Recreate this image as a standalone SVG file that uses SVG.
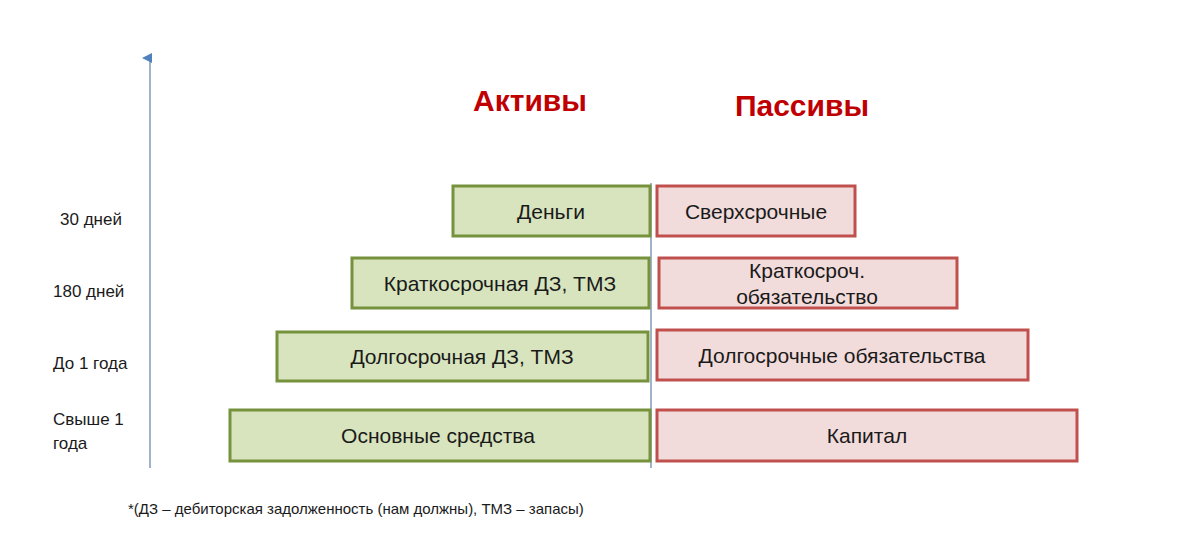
<svg xmlns="http://www.w3.org/2000/svg" width="1200" height="544" viewBox="0 0 1200 544">
<style>
text{font-family:"Liberation Sans",Arial,sans-serif;fill:#1a1a1a}
.a rect{fill:#d7e4bd;stroke:#76923c;stroke-width:3}
.p rect{fill:#f2dcdb;stroke:#c0504d;stroke-width:3}
.t{font-size:21px;text-anchor:middle}
.l{font-size:17px}
.h{font-size:30px;font-weight:bold;fill:#c00000;text-anchor:middle}
</style>
<defs><marker id="ar" markerWidth="10" markerHeight="10" refX="5" refY="8" orient="auto-start-reverse" markerUnits="userSpaceOnUse"><path d="M0,10 L5,0 L10,10 Z" fill="#4f81bd"/></marker></defs>
<rect width="1200" height="544" fill="#fff"/>
<g id="connectors">
<line x1="150" y1="468" x2="150" y2="58" stroke="#7f9bb8" stroke-width="1.5" marker-end="url(#ar)"/>
<line x1="651" y1="183" x2="651" y2="468" stroke="#7f9bb8" stroke-width="1.5"/>
</g>
<text class="h" x="530" y="111">Активы</text>
<text class="h" x="802" y="116">Пассивы</text>
<text class="l" x="60" y="225">30 дней</text>
<text class="l" x="53" y="297">180 дней</text>
<text class="l" x="53" y="369">До 1 года</text>
<text class="l" x="53" y="425">Свыше 1</text>
<text class="l" x="53" y="449">года</text>
<g id="a1" class="a"><rect x="453" y="186" width="197" height="50"/><text class="t" x="551" y="219">Деньги</text></g>
<g id="a2" class="a"><rect x="352" y="258" width="297" height="50"/><text class="t" x="500" y="291">Краткосрочная ДЗ, ТМЗ</text></g>
<g id="a3" class="a"><rect x="277" y="332" width="371" height="49"/><text class="t" x="462" y="364">Долгосрочная ДЗ, ТМЗ</text></g>
<g id="a4" class="a"><rect x="230" y="410" width="420" height="51"/><text class="t" x="438" y="443">Основные средства</text></g>
<g id="p1" class="p"><rect x="657" y="186" width="198" height="50"/><text class="t" x="756" y="219">Сверхсрочные</text></g>
<g id="p2" class="p"><rect x="659" y="258" width="298" height="50"/><text class="t" x="807" y="278">Краткосроч.</text><text class="t" x="807" y="304">обязательство</text></g>
<g id="p3" class="p"><rect x="657" y="330" width="371" height="50"/><text class="t" x="842" y="363">Долгосрочные обязательства</text></g>
<g id="p4" class="p"><rect x="657" y="410" width="420" height="51"/><text class="t" x="867" y="443">Капитал</text></g>
<text x="128" y="514" style="font-size:15px">*(ДЗ – дебиторская задолженность (нам должны), ТМЗ – запасы)</text>
</svg>
